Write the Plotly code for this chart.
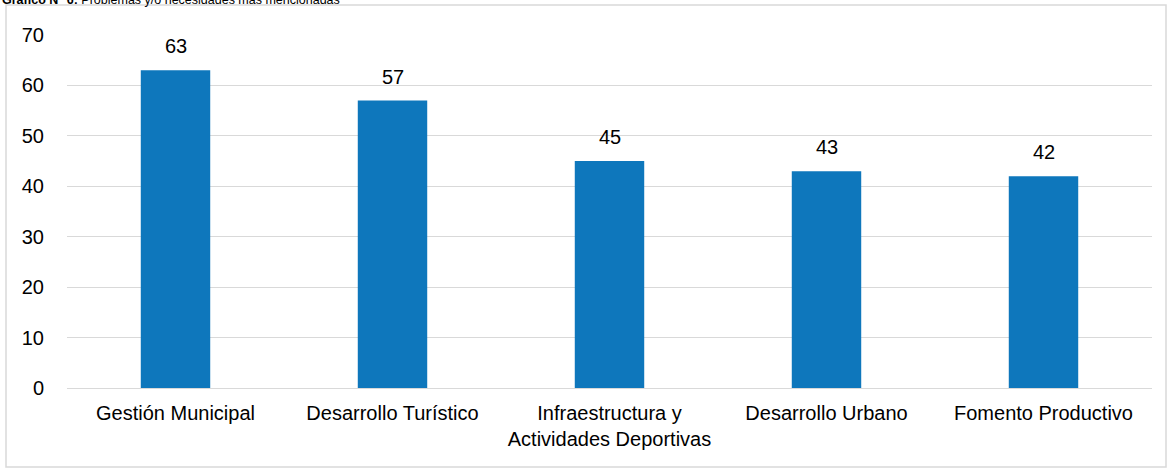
import plotly.graph_objects as go

categories = ["Gestión Municipal", "Desarrollo Turístico", "Infraestructura y<br>Actividades Deportivas",
              "Desarrollo Urbano", "Fomento Productivo"]
values = [63, 57, 45, 43, 42]
y_ticks = [0, 10, 20, 30, 40, 50, 60, 70]

W, H = 1167, 468
L, R, T, B = 67, 15, 35, 80
pw = W - L - R
ph = H - T - B
FONT = "Liberation Sans, Arial, sans-serif"
FS = 20

fig = go.Figure(go.Bar(
    x=categories, y=values, width=0.32,
    marker=dict(color="#0E77BC", line=dict(width=0)),
    cliponaxis=False,
))

for c, v in zip(categories, values):
    fig.add_annotation(x=c, y=v, text=str(v), showarrow=False, yanchor="bottom",
                       yshift=11, font=dict(size=FS, color="#000000", family=FONT))

fig.update_layout(
    width=W, height=H,
    margin=dict(l=L, r=R, t=T, b=B, pad=0, autoexpand=False),
    paper_bgcolor="white", plot_bgcolor="white",
    font=dict(family=FONT, size=FS, color="#000000"),
    showlegend=False,
    xaxis=dict(showgrid=False, showline=False, ticks="", tickangle=0, automargin=False,
               ticklabelstandoff=11, tickfont=dict(size=FS)),
    yaxis=dict(range=[0, 70], tickvals=y_ticks, showgrid=True, gridcolor="#d9d9d9", gridwidth=1,
               zeroline=True, zerolinecolor="#d9d9d9", zerolinewidth=1, showline=False,
               automargin=False, ticks="", ticklabelstandoff=22, tickfont=dict(size=FS)),
)

# Outer chart border
fig.add_shape(type="rect", xref="paper", yref="paper",
              x0=(6 - L) / pw, x1=(1166 - L) / pw,
              y0=((H - B) - 467) / ph, y1=1 + (T - 5) / ph,
              line=dict(color="#d9d9d9", width=1.5), fillcolor="rgba(0,0,0,0)", layer="below")

# Partially cut-off caption at top
fig.add_annotation(xref="paper", yref="paper", x=(0 - L) / pw, y=1 + (T - 9) / ph,
                   xanchor="left", yanchor="bottom", showarrow=False,
                   text="<b>Gráfico N° 6:</b> Problemas y/o necesidades más mencionadas",
                   font=dict(size=12.5, color="#000000", family=FONT))

fig.write_html("out.html", config={"displayModeBar": False},
               post_script="document.body.style.margin='0px';")
